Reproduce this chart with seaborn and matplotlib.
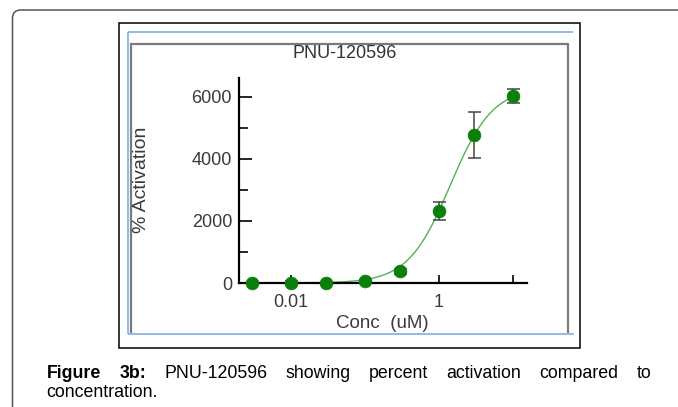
import numpy as np
import pandas as pd
import matplotlib
matplotlib.use("Agg")
import matplotlib.pyplot as plt
from matplotlib.lines import Line2D
from matplotlib.patches import FancyBboxPatch, Rectangle
from matplotlib.ticker import FixedLocator, NullFormatter
import seaborn as sns

# ---------------- data ----------------
conc = [0.003, 0.01, 0.03, 0.1, 0.3, 1, 3, 10]
activation = [0, 10, -10, 60, 375, 2325, 4770, 6020]
sem = [30, 40, 20, 40, 70, 295, 735, 225]

# fitted Hill curve parameters (read from the drawn fit)
fit_bottom = 0
fit_top = 6300
fit_ec50 = 1.42
fit_hill = 1.52

title = "PNU-120596"
xlabel = "Conc  (uM)"
ylabel = "% Activation"
xticks_major = [0.01, 0.1, 1, 10]
xtick_labels = {0.01: "0.01", 1: "1"}
yticks_major = [0, 2000, 4000, 6000]
yticks_minor = [1000, 3000, 5000]
caption_line1 = ["Figure", "3b:", "PNU-120596", "showing", "percent",
                 "activation", "compared", "to"]
caption_bold = 2
caption_line2 = "concentration."

# ---------------- style ----------------
sns.set_theme(style="white")
plt.rcParams["font.family"] = ["Liberation Sans", "DejaVu Sans"]

W, H = 678, 407
fig = plt.figure(figsize=(W / 100, H / 100), dpi=100)


def fx(x):
    return x / W


def fy(y):
    return 1 - y / H


def hline(x0, x1, y, color, lw):
    fig.add_artist(Line2D([fx(x0), fx(x1)], [fy(y), fy(y)], color=color,
                          lw=lw, transform=fig.transFigure, solid_capstyle="butt"))


def vline(x, y0, y1, color, lw):
    fig.add_artist(Line2D([fx(x), fx(x)], [fy(y0), fy(y1)], color=color,
                          lw=lw, transform=fig.transFigure, solid_capstyle="butt"))


# outer page frame (rounded corner, extends beyond right/bottom)
fig.add_artist(FancyBboxPatch((fx(12.5), fy(440)), fx(720), 430 / H,
                              boxstyle="round,pad=0,rounding_size=0.012",
                              transform=fig.transFigure, fill=False,
                              ec="#555555", lw=1.1, mutation_aspect=W / H))
# black image frame
fig.add_artist(Rectangle((fx(119), fy(348)), fx(580 - 119), (348 - 23) / H,
                         transform=fig.transFigure, fill=False, ec="black", lw=1.1))
# blue lines
blue = "#7aa6dc"
hline(128, 573, 32, blue, 1.1)
vline(128, 32, 333.5, blue, 1.1)
hline(128, 574, 333.5, blue, 1.1)
# gray inner frame
gray = "#7a7a7a"
hline(130, 568, 43.5, gray, 1.6)
vline(130.5, 43, 333, gray, 1.6)
vline(567.5, 43, 333, gray, 1.6)

# ---------------- axes ----------------
ax_left, ax_right, ax_top, ax_bottom = 239, 527, 78, 283
ax = fig.add_axes([fx(ax_left), fy(ax_bottom), fx(ax_right - ax_left),
                   (ax_bottom - ax_top) / H])
ax.set_facecolor("none")

df = pd.DataFrame({"conc": conc, "activation": activation, "sem": sem})

xs = np.logspace(np.log10(min(conc)), np.log10(max(conc)), 300)
ys = fit_bottom + (fit_top - fit_bottom) * (xs / fit_ec50) ** fit_hill / (
    1 + (xs / fit_ec50) ** fit_hill)
curve = pd.DataFrame({"conc": xs, "activation": ys})

sns.lineplot(data=curve, x="conc", y="activation", ax=ax, color="#55b155",
             lw=1.0, zorder=2)
ax.errorbar(df["conc"], df["activation"], yerr=df["sem"], fmt="none",
            ecolor="#444444", elinewidth=1.1, capsize=6.5 * 0.72, capthick=1.1,
            zorder=3, clip_on=False)
sns.scatterplot(data=df, x="conc", y="activation", ax=ax, color="#0a7f0a",
                s=85, edgecolor="#0a7f0a", linewidth=0.5, zorder=4, clip_on=False)

ax.set_xscale("log")
ax.set_xlim(10 ** -2.703, 10 ** 1.189)
ax.set_ylim(0, 6600)

for s in ["top", "right"]:
    ax.spines[s].set_visible(False)
for s in ["left", "bottom"]:
    ax.spines[s].set_color("black")
    ax.spines[s].set_linewidth(1.6)

ax.xaxis.set_major_locator(FixedLocator(xticks_major))
ax.set_xticklabels([xtick_labels.get(t, "") for t in xticks_major])
ax.xaxis.set_minor_locator(FixedLocator([]))
ax.xaxis.set_minor_formatter(NullFormatter())
ax.set_yticks(yticks_major)
ax.set_yticks(yticks_minor, minor=True)
ax.set_yticklabels([str(v) for v in yticks_major])

ax.tick_params(axis="x", which="major", direction="in", length=5.8, width=1.2,
               color="black", labelsize=13, labelcolor="#3a3a3a", pad=8,
               bottom=True)
ax.tick_params(axis="y", which="major", direction="in", length=9.4, width=1.2,
               color="black", labelsize=13, labelcolor="#3a3a3a", pad=5, left=True)
ax.tick_params(axis="y", which="minor", direction="in", length=6.5, width=1.2,
               color="black", left=True)

ax.set_xlabel("")
ax.set_ylabel("")

fig.text(fx(345), fy(54), title, ha="center", va="center", fontsize=13,
         color="#333333")
fig.text(fx(382), fy(324), xlabel, ha="center", va="center", fontsize=13.5,
         color="#3a3a3a")
fig.text(fx(142), fy(180), ylabel, ha="center", va="center", fontsize=14,
         rotation=90, color="#3a3a3a")

# ---------------- caption (justified first line) ----------------
cap_left, cap_right = 46.7, 651.7
base1, base2 = 377.5, 397.0
cap_fs = 12.8
renderer = fig.canvas.get_renderer()
words = []
for i, w in enumerate(caption_line1):
    t = fig.text(0, fy(base1), w, ha="left", va="baseline", fontsize=cap_fs,
                 color="black", fontweight="bold" if i < caption_bold else "normal")
    words.append(t)
widths = [t.get_window_extent(renderer=renderer).width for t in words]
gap = (cap_right - cap_left - sum(widths)) / (len(words) - 1)
xpos = cap_left
for t, wdt in zip(words, widths):
    t.set_x(fx(xpos))
    xpos += wdt + gap
fig.text(fx(cap_left), fy(base2), caption_line2, ha="left", va="baseline",
         fontsize=cap_fs, color="black")

fig.savefig("out.png", dpi=100)
